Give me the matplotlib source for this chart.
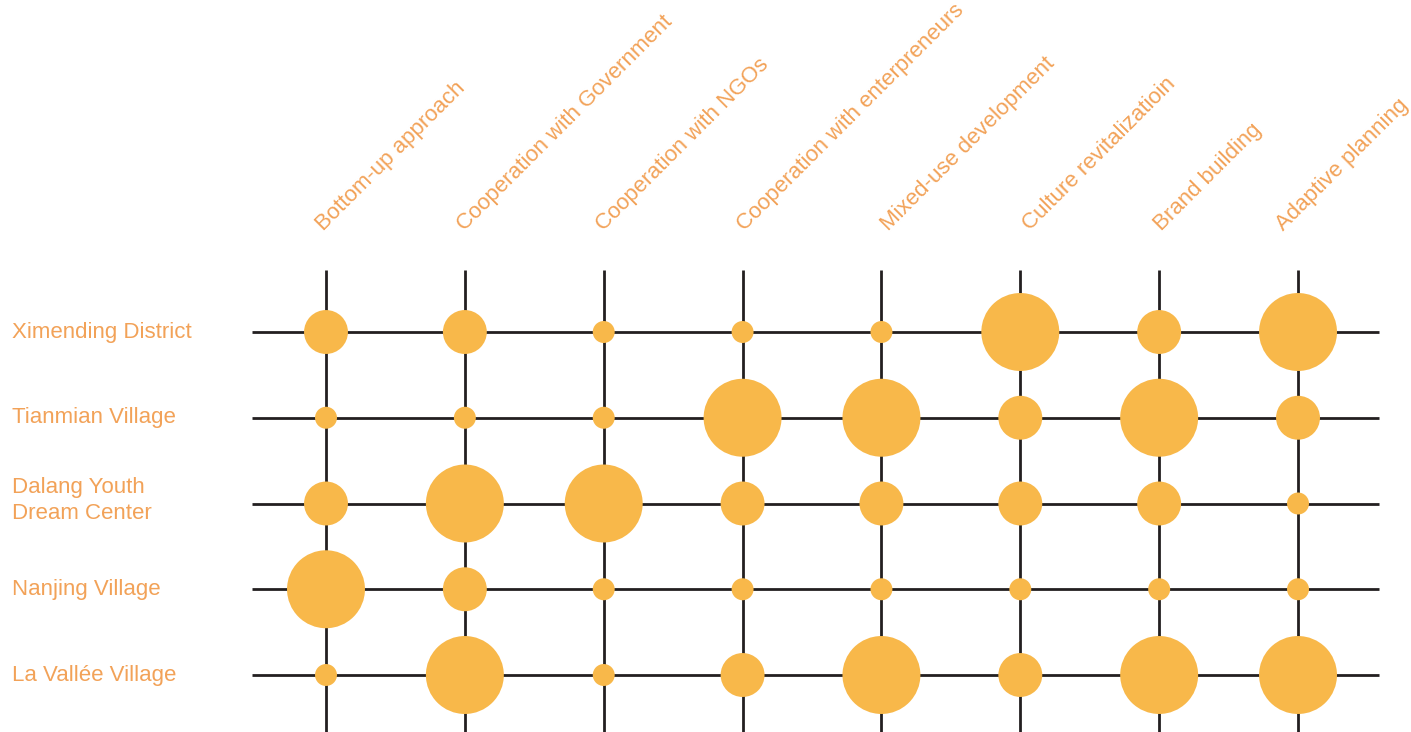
import matplotlib.pyplot as plt
import matplotlib.transforms as mtransforms

ROWS = ["Ximending District", "Tianmian Village", "Dalang Youth\nDream Center",
        "Nanjing Village", "La Vallée Village"]
COLS = ["Bottom-up approach", "Cooperation with Government", "Cooperation with NGOs",
        "Cooperation with enterpreneurs", "Mixed-use development",
        "Culture revitalizatioin", "Brand building", "Adaptive planning"]
# 1 = small, 2 = medium, 3 = large
LEVELS = [
    [2, 2, 1, 1, 1, 3, 2, 3],
    [1, 1, 1, 3, 3, 2, 3, 2],
    [2, 3, 3, 2, 2, 2, 2, 1],
    [3, 2, 1, 1, 1, 1, 1, 1],
    [1, 3, 1, 2, 3, 2, 3, 3],
]
SIZES = {1: 250, 2: 1000, 3: 3150}

# horizontal offset of each column label from its grid line (pixels)
LABEL_OFFSET_PX = [-3, 0, 0, 2, 7, 10, 2, -15]
PX_X = 138.86  # pixels per column
PX_Y = 85.75   # pixels per row

DOT = "#F8B84A"
TEXT = "#F2A258"
LINE = "#231F20"
FONT = ["Liberation Sans", "DejaVu Sans"]


def main():
    fig = plt.figure(figsize=(14.11, 7.32), dpi=100)
    ax = fig.add_axes([0, 0, 1, 1])
    ax.set_xlim(-326 / PX_X, (1411 - 326) / PX_X)
    ax.set_ylim((732 - 332) / PX_Y, -332 / PX_Y)
    ax.axis("off")

    n_cols = len(COLS)
    n_rows = len(ROWS)

    for r in range(n_rows):
        ax.plot([-0.533, n_cols - 1 + 0.583], [r, r], color=LINE, lw=2.0, zorder=1,
                solid_capstyle="butt")
    for c in range(n_cols):
        ax.plot([c, c], [-0.723, 4.7], color=LINE, lw=2.0, zorder=1,
                solid_capstyle="butt")

    xs, ys, ss = [], [], []
    for r, row in enumerate(LEVELS):
        for c, v in enumerate(row):
            xs.append(c)
            ys.append(r)
            ss.append(SIZES[v])
    ax.scatter(xs, ys, s=ss, color=DOT, edgecolors="none", zorder=2)

    blend = mtransforms.blended_transform_factory(ax.transAxes, ax.transData)
    for r, name in enumerate(ROWS):
        ax.text(0.0085, r - (0.035 if "\n" in name else 0), name, transform=blend,
                ha="left", va="center", fontsize=16, color=TEXT,
                family=FONT, linespacing=1.35)

    for c, name in enumerate(COLS):
        x = c + LABEL_OFFSET_PX[c] / PX_X
        ax.text(x, -1.178, name, rotation=45, rotation_mode="anchor",
                ha="left", va="baseline", fontsize=16, color=TEXT, family=FONT)

    fig.savefig("out.png", dpi=100, facecolor="white")


if __name__ == "__main__":
    main()
